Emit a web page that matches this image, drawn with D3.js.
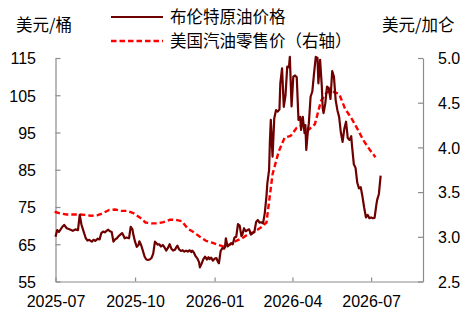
<!DOCTYPE html>
<html><head><meta charset="utf-8">
<script src="https://cdn.jsdelivr.net/npm/d3@7/dist/d3.min.js"></script>
<style>
body{margin:0;background:#fff}
svg{display:block}
.num{font-family:"Liberation Sans",Arial,sans-serif;font-size:16px;fill:#000}
.cjk{font-family:"Noto Sans CJK SC","Noto Sans",sans-serif;font-size:16.5px;fill:#000}
</style>
</head><body>
<svg id="chart" width="469" height="314"></svg>
<script>
// ---------------- data ----------------
const brentDates = ["2025-07-01","2025-07-03","2025-07-05","2025-07-09","2025-07-11","2025-07-14","2025-07-17","2025-07-21","2025-07-24","2025-07-27","2025-07-29","2025-07-31","2025-08-02","2025-08-05","2025-08-07","2025-08-09","2025-08-12","2025-08-14","2025-08-16","2025-08-19","2025-08-21","2025-08-23","2025-08-25","2025-08-27","2025-08-29","2025-08-31","2025-09-02","2025-09-04","2025-09-06","2025-09-08","2025-09-10","2025-09-12","2025-09-16","2025-09-17","2025-09-19","2025-09-21","2025-09-24","2025-09-26","2025-09-28","2025-09-29","2025-10-01","2025-10-03","2025-10-05","2025-10-06","2025-10-08","2025-10-10","2025-10-12","2025-10-14","2025-10-16","2025-10-18","2025-10-20","2025-10-22","2025-10-24","2025-10-26","2025-10-27","2025-10-29","2025-10-31","2025-11-02","2025-11-04","2025-11-06","2025-11-08","2025-11-10","2025-11-12","2025-11-14","2025-11-16","2025-11-18","2025-11-19","2025-11-21","2025-11-23","2025-11-25","2025-11-27","2025-11-29","2025-12-01","2025-12-03","2025-12-05","2025-12-06","2025-12-08","2025-12-10","2025-12-12","2025-12-14","2025-12-15","2025-12-17","2025-12-19","2025-12-21","2025-12-23","2025-12-25","2025-12-26","2025-12-28","2025-12-30","2026-01-01","2026-01-03","2026-01-05","2026-01-06","2026-01-08","2026-01-10","2026-01-12","2026-01-13","2026-01-14","2026-01-16","2026-01-18","2026-01-20","2026-01-22","2026-01-24","2026-01-26","2026-01-28","2026-01-30","2026-02-01","2026-02-02","2026-02-04","2026-02-06","2026-02-08","2026-02-10","2026-02-12","2026-02-14","2026-02-16","2026-02-18","2026-02-20","2026-02-22","2026-02-24","2026-02-26","2026-02-28","2026-03-02","2026-03-03","2026-03-05","2026-03-06","2026-03-07","2026-03-09","2026-03-11","2026-03-13","2026-03-15","2026-03-17","2026-03-18","2026-03-20","2026-03-22","2026-03-24","2026-03-26","2026-03-28","2026-03-29","2026-03-31","2026-04-02","2026-04-04","2026-04-06","2026-04-08","2026-04-10","2026-04-11","2026-04-13","2026-04-15","2026-04-16","2026-04-17","2026-04-19","2026-04-20","2026-04-22","2026-04-24","2026-04-26","2026-04-28","2026-04-30","2026-05-01","2026-05-03","2026-05-05","2026-05-06","2026-05-07","2026-05-09","2026-05-11","2026-05-13","2026-05-15","2026-05-17","2026-05-19","2026-05-21","2026-05-23","2026-05-25","2026-05-27","2026-05-29","2026-05-31","2026-06-02","2026-06-04","2026-06-06","2026-06-08","2026-06-09","2026-06-11","2026-06-13","2026-06-15","2026-06-17","2026-06-19","2026-06-21","2026-06-23","2026-06-25","2026-06-27","2026-06-29","2026-07-01","2026-07-03","2026-07-05","2026-07-07","2026-07-08","2026-07-10","2026-07-12"];
const brentValues = [67.0,68.8,68.3,69.7,70.2,69.3,69.0,68.6,69.0,68.8,72.9,70.3,68.8,66.6,66.0,66.2,65.7,66.2,65.9,66.5,66.3,68.0,68.4,68.2,68.6,68.9,68.5,68.3,65.7,66.3,66.6,67.2,68.0,67.6,66.6,66.8,66.6,69.7,69.0,67.6,65.7,64.3,64.8,65.8,64.8,63.3,61.7,60.9,60.8,60.9,61.3,62.5,65.7,65.2,64.9,65.0,64.4,64.8,64.2,63.3,64.0,65.0,63.8,63.3,63.5,64.3,64.6,63.6,63.2,63.4,63.0,63.3,63.0,63.4,62.9,63.3,62.8,61.8,61.2,60.2,58.8,59.8,61.0,61.7,60.9,61.5,61.0,61.4,60.6,61.1,61.3,60.2,59.9,63.2,64.0,63.8,64.2,66.6,64.4,64.8,65.3,65.0,66.8,67.0,70.4,70.0,67.2,67.5,69.3,68.5,68.8,69.0,67.6,68.0,68.3,71.0,71.5,70.8,70.9,70.6,73.3,78.0,81.4,84.9,93.0,98.4,88.5,98.8,101.0,100.6,101.2,108.2,112.2,101.9,105.0,112.7,112.5,115.3,102.0,110.0,110.3,109.8,98.4,99.2,95.7,99.2,94.8,97.0,90.3,95.7,97.5,104.6,106.0,110.9,115.3,115.0,108.2,114.5,107.3,101.5,100.2,102.8,107.3,107.0,104.0,111.5,110.0,103.7,101.0,99.2,95.0,92.5,96.0,97.9,93.5,93.0,94.0,91.2,86.5,85.5,81.5,80.0,80.3,77.8,74.8,72.2,72.9,72.0,72.2,72.0,72.1,75.5,76.9,78.5,83.4];

const gasDates = ["2025-06-30","2025-07-07","2025-07-14","2025-07-21","2025-07-28","2025-08-04","2025-08-11","2025-08-18","2025-08-25","2025-09-01","2025-09-08","2025-09-15","2025-09-22","2025-09-29","2025-10-06","2025-10-13","2025-10-20","2025-10-27","2025-11-03","2025-11-10","2025-11-17","2025-11-24","2025-12-01","2025-12-08","2025-12-15","2025-12-22","2025-12-29","2026-01-05","2026-01-12","2026-01-19","2026-01-26","2026-02-02","2026-02-09","2026-02-16","2026-02-23","2026-03-02","2026-03-09","2026-03-16","2026-03-23","2026-03-30","2026-04-06","2026-04-13","2026-04-20","2026-04-27","2026-05-04","2026-05-11","2026-05-18","2026-05-25","2026-06-01","2026-06-08","2026-06-15","2026-06-22","2026-06-29","2026-07-06"];
const gasValues = [3.28,3.26,3.25,3.25,3.25,3.245,3.235,3.24,3.265,3.30,3.305,3.29,3.29,3.265,3.22,3.16,3.15,3.15,3.165,3.19,3.19,3.175,3.09,3.05,3.00,2.955,2.935,2.91,2.89,2.915,2.955,2.985,3.03,3.055,3.10,3.16,3.70,3.95,4.11,4.13,4.22,4.25,4.20,4.26,4.52,4.62,4.62,4.60,4.43,4.33,4.21,4.08,3.98,3.89];

const leftTicks = [55,65,75,85,95,105,115];
const rightTicks = [2.5,3.0,3.5,4.0,4.5,5.0];
const xTickDates = ["2025-07-01","2025-10-01","2026-01-01","2026-04-01","2026-07-01"];
const xDomain = ["2025-07-01","2026-08-30"];

const seriesNames = ["布伦特原油价格","美国汽油零售价（右轴）"];
const leftUnit = "美元/桶";
const rightUnit = "美元/加仑";

// ---------------- layout ----------------
const W = 469, H = 314;
const L = 55.5, R = 423, T = 58, B = 281.5;
const parse = d3.timeParse("%Y-%m-%d");
const brent = brentDates.map((d,i)=>({date:parse(d), v:brentValues[i]}));
const gas = gasDates.map((d,i)=>({date:parse(d), v:gasValues[i]}));

const x = d3.scaleTime().domain(xDomain.map(parse)).range([L, R]);
const yL = d3.scaleLinear().domain([55,115]).range([B, T]);
const yR = d3.scaleLinear().domain([2.5,5.0]).range([B, T]);

const svg = d3.select("#chart");
svg.append("rect").attr("width",W).attr("height",H).attr("fill","#fff");

const axisColor = "#8c8c8c";

// left axis
const gL = svg.append("g").attr("transform",`translate(${L},0)`)
  .call(d3.axisLeft(yL).tickValues(leftTicks).tickSizeInner(-5).tickSizeOuter(0).tickPadding(19.5).tickFormat(d3.format("d")));
// right axis
const gR = svg.append("g").attr("transform",`translate(${R},0)`)
  .call(d3.axisRight(yR).tickValues(rightTicks).tickSizeInner(-5).tickSizeOuter(0).tickPadding(15).tickFormat(d3.format(".1f")));
// bottom axis
const gB = svg.append("g").attr("transform",`translate(0,${B})`)
  .call(d3.axisBottom(x).tickValues(xTickDates.map(parse)).tickSizeInner(-4).tickSizeOuter(0).tickPadding(14).tickFormat(d3.timeFormat("%Y-%m")));

[gL,gR,gB].forEach(g=>{
  g.select(".domain").attr("stroke",axisColor).attr("stroke-width",1.2);
  g.selectAll(".tick line").attr("stroke",axisColor).attr("stroke-width",1.2);
  g.selectAll(".tick text").attr("class","num").attr("font-family",null).attr("font-size",null);
  g.attr("font-family",null).attr("font-size",null);
});
gL.selectAll(".tick text").attr("dy","0.36em");
gR.selectAll(".tick text").attr("dy","0.36em");
gB.selectAll(".tick text").attr("y",20).attr("dy","0.36em");

// lines
const lineL = d3.line().x(d=>x(d.date)).y(d=>yL(d.v));
const lineR = d3.line().x(d=>x(d.date)).y(d=>yR(d.v));

svg.append("path").datum(gas).attr("d",lineR)
  .attr("fill","none").attr("stroke","#ff0000").attr("stroke-width",2.4)
  .attr("stroke-dasharray","5.5,3").attr("stroke-linejoin","round");

svg.append("path").datum(brent).attr("d",lineL)
  .attr("fill","none").attr("stroke","#6e0000").attr("stroke-width",2.2)
  .attr("stroke-linejoin","round");

// unit labels
svg.append("text").attr("class","cjk").attr("x",16).attr("y",25).attr("dy","0.36em").text(leftUnit);
svg.append("text").attr("class","cjk").attr("x",382).attr("y",25).attr("dy","0.36em").text(rightUnit);

// legend
const lg = svg.append("g");
lg.append("line").attr("x1",111).attr("x2",163).attr("y1",17).attr("y2",17)
  .attr("stroke","#6e0000").attr("stroke-width",2.2);
lg.append("text").attr("class","cjk").attr("x",170).attr("y",17.5).attr("dy","0.36em").text(seriesNames[0]);
lg.append("line").attr("x1",111).attr("x2",163).attr("y1",41).attr("y2",41)
  .attr("stroke","#ff0000").attr("stroke-width",2.4).attr("stroke-dasharray","5.5,3");
lg.append("text").attr("class","cjk").attr("x",170).attr("y",41.5).attr("dy","0.36em").text(seriesNames[1]);
</script>
</body></html>
